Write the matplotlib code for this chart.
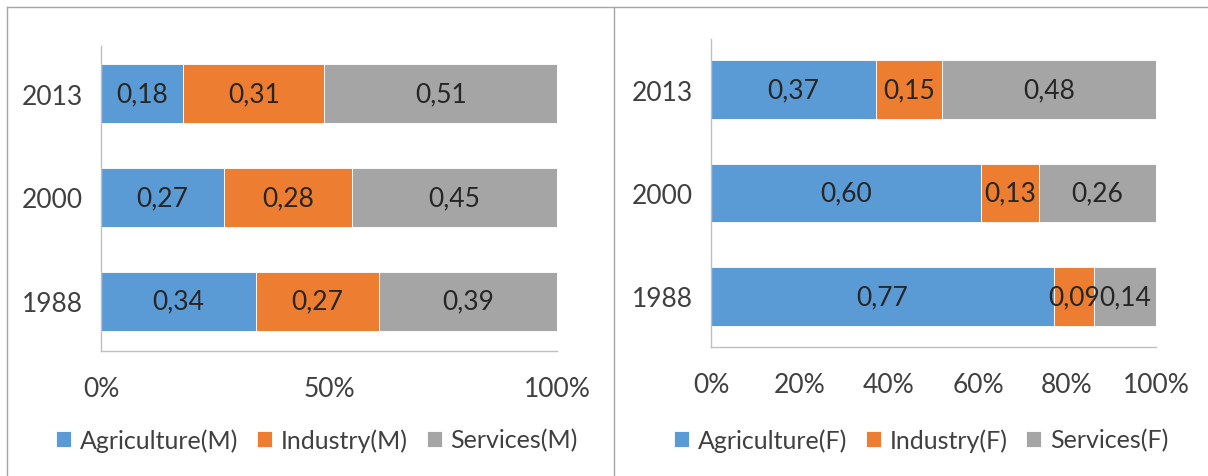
import matplotlib.pyplot as plt
from matplotlib.lines import Line2D
import numpy as np

years = ["1988", "2000", "2013"]

agri_m = [0.34, 0.27, 0.18]
ind_m = [0.27, 0.28, 0.31]
serv_m = [0.39, 0.45, 0.51]

agri_f = [0.77, 0.60, 0.37]
ind_f = [0.09, 0.13, 0.15]
serv_f = [0.14, 0.26, 0.48]

colors = ["#5B9BD5", "#ED7D31", "#A5A5A5"]
FONT = "Lato"
TXT = "#404040"

plt.rcParams['font.family'] = [FONT, 'DejaVu Sans']


def stacked(ax, series, names, ticks, ylim):
    data = np.array(series, dtype=float)
    data = data / data.sum(axis=0)  # 100% stacked
    y = np.arange(len(years))
    left = np.zeros(len(years))
    for vals, raw, name, c in zip(data, series, names, colors):
        ax.barh(y, vals, left=left, height=0.57, color=c, edgecolor="white",
                linewidth=0.6, label=name)
        for yi, l, v, r in zip(y, left, vals, raw):
            ax.text(l + v / 2, yi, f"{r:.2f}".replace(".", ","), ha="center",
                    va="center", fontsize=19, color="#262626")
        left += vals
    ax.set_xlim(0, 1)
    ax.set_ylim(*ylim)
    ax.set_yticks(y)
    ax.set_yticklabels(years)
    ax.set_xticks(ticks)
    ax.set_xticklabels([f"{int(round(t * 100))}%" for t in ticks])
    ax.tick_params(axis="both", length=0, labelsize=19, colors=TXT)
    ax.tick_params(axis="x", pad=18)
    ax.tick_params(axis="y", pad=13)
    for s in ["top", "right"]:
        ax.spines[s].set_visible(False)
    for s in ["left", "bottom"]:
        ax.spines[s].set_color("#BFBFBF")
        ax.spines[s].set_linewidth(1.0)


fig = plt.figure(figsize=(12.08, 4.77), dpi=100)

ax1 = fig.add_axes([0.0836, 0.262, 0.3775, 0.6394])
stacked(ax1, [agri_m, ind_m, serv_m],
        ["Agriculture(M)", "Industry(M)", "Services(M)"],
        [0, 0.5, 1.0], (-0.48, 2.46))

ax2 = fig.add_axes([0.5886, 0.2704, 0.3684, 0.6457])
stacked(ax2, [agri_f, ind_f, serv_f],
        ["Agriculture(F)", "Industry(F)", "Services(F)"],
        [0, 0.2, 0.4, 0.6, 0.8, 1.0], (-0.49, 2.49))

for ax, cx in [(ax1, 317 / 1208), (ax2, 921 / 1208)]:
    leg = fig.legend(*ax.get_legend_handles_labels(), loc="center",
                     bbox_to_anchor=(cx, 1 - 441 / 477), ncol=3, frameon=False,
                     fontsize=18, handlelength=0.6, handleheight=0.6,
                     handletextpad=0.35, columnspacing=0.75, labelcolor=TXT)

# panel frames
fc = "#A6A6A6"
fig.add_artist(Line2D([7 / 1208, 1], [1 - 8 / 477, 1 - 8 / 477], color=fc, lw=1))
fig.add_artist(Line2D([7 / 1208, 7 / 1208], [0, 1 - 8 / 477], color=fc, lw=1))
fig.add_artist(Line2D([614 / 1208, 614 / 1208], [0, 1 - 8 / 477], color=fc, lw=1))

fig.savefig("out.png", dpi=100, facecolor="white")
